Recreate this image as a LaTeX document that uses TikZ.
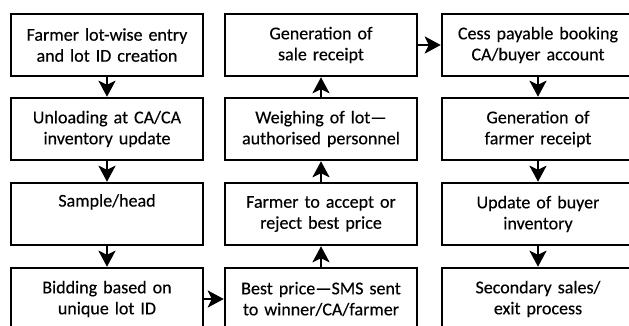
\documentclass[tikz,border=0pt]{standalone}
\usepackage{fontspec}
\setmainfont{Carlito}
\newfontfamily\stagefont{Carlito}[FakeBold=0.3]
\usepackage{tikz}
\usetikzlibrary{arrows.meta}
\definecolor{ink}{HTML}{000000}
\definecolor{paper}{HTML}{FFFFFF}
\tikzset{
  stage/.style={draw=ink, line width=2.5pt, minimum width=192pt, minimum height=62pt,
    text width=186pt, align=center, inner sep=0pt, font=\stagefont\fontsize{18}{21}\selectfont},
  flow/.style={draw=ink, line width=2.5pt, -{Stealth[length=16pt,width=17pt,inset=4pt]}}
}
\begin{document}
\begin{tikzpicture}[x=1pt,y=-1pt]
\useasboundingbox (0,0) rectangle (629,326);
\fill[paper] (0,0) rectangle (629,326);
\clip (0,0) rectangle (629,326);
\node[stage] (entry) at (107,45) {Farmer lot-wise entry\\and lot ID creation};
\node[stage] (unload) at (107,129) {Unloading at CA/CA\\inventory update};
\node[stage] (sample) at (107,214) {Sample/head\\\strut};
\node[stage] (bid) at (107,299) {Bidding based on\\unique lot ID};
\node[stage] (best) at (321,299) {Best price—SMS sent\\to winner/CA/farmer};
\node[stage] (accept) at (321,214) {Farmer to accept or\\reject best price};
\node[stage] (weigh) at (321,129) {Weighing of lot—\\authorised personnel};
\node[stage] (receipt) at (321,45) {Generation of\\sale receipt};
\node[stage] (cess) at (538,45) {Cess payable booking\\CA/buyer account};
\node[stage] (farmrc) at (538,129) {Generation of\\farmer receipt};
\node[stage] (stock) at (538,214) {Update of buyer\\inventory};
\node[stage] (exit) at (538,299) {Secondary sales/\\exit process};
\draw[flow] (entry) -- (unload);
\draw[flow] (unload) -- (sample);
\draw[flow] (sample) -- (bid);
\draw[flow] (bid) -- (best);
\draw[flow] (best) -- (accept);
\draw[flow] (accept) -- (weigh);
\draw[flow] (weigh) -- (receipt);
\draw[flow] (receipt) -- (cess);
\draw[flow] (cess) -- (farmrc);
\draw[flow] (farmrc) -- (stock);
\draw[flow] (stock) -- (exit);
\end{tikzpicture}
\end{document}
